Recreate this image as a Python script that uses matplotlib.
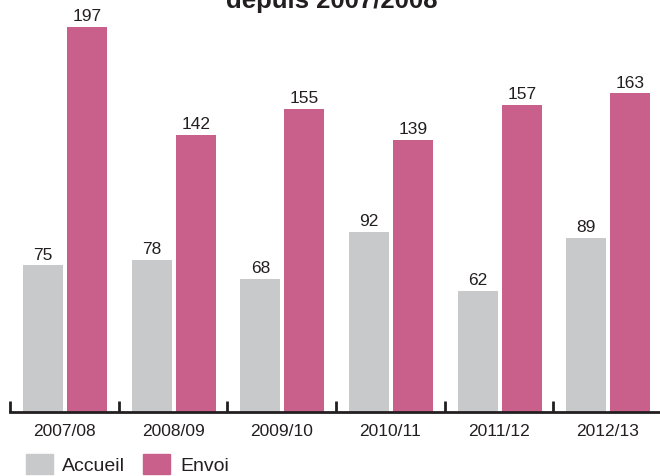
import numpy as np
import matplotlib.pyplot as plt
from matplotlib.patches import Patch

# données
saisons = ['2007/08', '2008/09', '2009/10', '2010/11', '2011/12', '2012/13']
accueil = [75, 78, 68, 92, 62, 89]
envoi = [197, 142, 155, 139, 157, 163]

GRIS = '#c8c9cb'
ROSE = '#c9608c'
NOIR = '#231f20'
num_font = ['Liberation Sans', 'DejaVu Sans']

fig = plt.figure(figsize=(6.6, 4.77), dpi=100)
ax = fig.add_axes([10/660, 64/477, 650/660, 413/477])

x = np.arange(len(saisons))
w = 0.368
ax.bar(x + 0.304, accueil, w, color=GRIS)
ax.bar(x + 0.709, envoi, w, color=ROSE)

for i in range(len(saisons)):
    ax.text(x[i] + 0.304, accueil[i] + 2, str(accueil[i]), ha='center', va='bottom',
            fontsize=12.5, color=NOIR, family=num_font)
    ax.text(x[i] + 0.709, envoi[i] + 2, str(envoi[i]), ha='center', va='bottom',
            fontsize=12.5, color=NOIR, family=num_font)

ax.set_xlim(0, 650/108.67)
ax.set_ylim(0, 413/1.954)
for s in ['top', 'right', 'left']:
    ax.spines[s].set_visible(False)
ax.spines['bottom'].set_linewidth(2)
ax.spines['bottom'].set_color(NOIR)
ax.set_yticks([])
ax.set_xticks(x)
ax.tick_params(axis='x', direction='in', length=8, width=2, color=NOIR, labelbottom=False)
for i, s in enumerate(saisons):
    ax.text(x[i] + 0.5, -9.5, s, ha='center', va='center', fontsize=12.5, color=NOIR,
            family=num_font)

# titre coupé en haut
fig.text(332/660, 1 - 8/477, 'depuis 2007/2008', ha='center', va='baseline',
         fontsize=18.5, fontweight='bold', color=NOIR, family='Liberation Sans')

# légende
handles = [Patch(color=GRIS, label='Accueil'), Patch(color=ROSE, label='Envoi')]
fig.legend(handles=handles, loc='lower left', bbox_to_anchor=(8/660, -16/477), ncol=2,
           frameon=False, prop={'family': 'Liberation Sans', 'size': 14},
           handlelength=1.4, handleheight=1.15, handletextpad=0.5, columnspacing=0.9,
           labelcolor=NOIR)

fig.savefig('out.png', dpi=100)
